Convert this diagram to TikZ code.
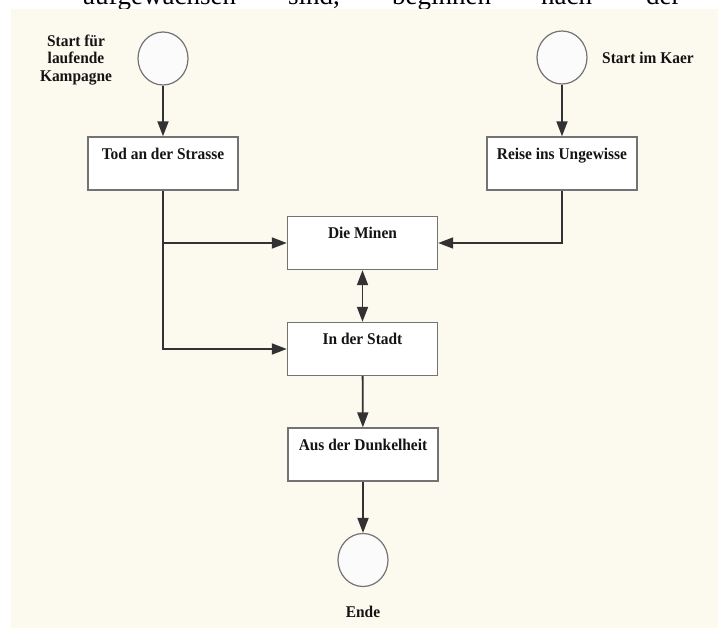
\documentclass[tikz,border=0pt]{standalone}
\usepackage{fontspec}
\setmainfont{Liberation Serif}
\newfontfamily\labfont[FakeStretch=0.94]{Liberation Serif}
\usetikzlibrary{arrows.meta,shapes.geometric}
\definecolor{bg}{RGB}{252,249,238}
\definecolor{ln}{RGB}{50,50,50}
\definecolor{bd}{RGB}{115,115,115}
\definecolor{tx}{RGB}{20,20,20}
\begin{document}
\begin{tikzpicture}[x=1pt,y=-1pt,
  lab/.style={font=\labfont\fontsize{16.4}{17.5}\selectfont\bfseries, text=tx, inner sep=0pt},
  box/.style={lab, draw=bd, line width=1.4pt, fill=white, minimum width=150pt,
    text height=22.5pt, text depth=30.5pt, inner ysep=0pt},
  circ/.style={ellipse, draw=bd, line width=1.2pt, fill=white!97!gray,
    minimum width=50pt, minimum height=53pt, inner sep=0pt},
  arr/.style={draw=ln, line width=1.8pt, -{Triangle[length=15pt,width=11pt]}},
  arrb/.style={draw=ln, line width=1.8pt, {Triangle[length=15pt,width=11pt]}-{Triangle[length=15pt,width=11pt]}},
  top/.style={font=\fontsize{27}{30}\selectfont, anchor=base west, inner sep=0pt, text=black}]
\useasboundingbox (0,0) rectangle (718,628);
\clip (0,0) rectangle (718,628);
\fill[white] (0,0) rectangle (718,628);
% cut-off running text above the figure
\node[top] (w1) at (83,5) {aufgewachsen};
\node[top] (w2) at (288,5) {sind,};
\node[top] (w3) at (392,5) {beginnen};
\node[top] (w4) at (541,5) {nach};
\node[top] (w5) at (646,5) {der};
\fill[bg] (11,9) rectangle (718,628);
% start / end circles
\node[circ] (s1) at (163,58.5) {};
\node[circ] (s2) at (562,57.5) {};
\node[circ] (en) at (363,560) {};
% labels
\node[lab, align=center] (l1) at (76,60) {Start für\\laufende\\Kampagne};
\node[lab, anchor=west] (l2) at (602,58) {Start im Kaer};
\node[lab] (l3) at (363,612) {Ende};
% boxes
\node[box] (tod) at (163,163.5) {Tod an der Strasse};
\node[box] (reise) at (562,163.5) {Reise ins Ungewisse};
\node[box] (minen) at (362.5,243) {Die Minen};
\node[box] (stadt) at (362.5,349) {In der Stadt};
\node[box] (aus) at (363,454.5) {Aus der Dunkelheit};
% connectors
\draw[arr] (s1) -- (tod);
\draw[arr] (s2) -- (reise);
\draw[arr] (tod.south) |- (minen.west);
\draw[arr] (tod.south) |- (stadt.west);
\draw[arr] (reise.south) |- (minen.east);
\draw[arrb] (minen) -- (stadt);
\draw[arr] (stadt) -- (aus);
\draw[arr] (aus) -- (en);
\end{tikzpicture}
\end{document}
